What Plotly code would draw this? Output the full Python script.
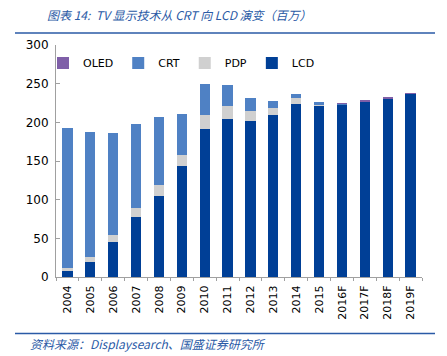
import plotly.graph_objects as go

years = ["2004", "2005", "2006", "2007", "2008", "2009", "2010", "2011",
         "2012", "2013", "2014", "2015", "2016F", "2017F", "2018F", "2019F"]
lcd = [9, 20, 45, 78, 105, 144, 192, 204, 202, 209, 224, 222, 223, 227, 231, 237]
pdp = [2, 6, 9, 11, 14, 14, 17, 17, 13, 10, 7, 1, 0.5, 0, 0, 0]
crt = [182, 161, 132, 109, 88, 53, 40, 27, 17, 9, 5, 3, 1, 0.5, 0, 0]
oled = [0, 0, 0, 0, 0, 0, 0, 0, 0, 0, 0, 0, 0.5, 1.5, 2, 0.5]

series = [
    ("LCD", lcd, "#003f96"),
    ("PDP", pdp, "#d0d0d0"),
    ("CRT", crt, "#4f81c4"),
    ("OLED", oled, "#7f5fa8"),
]

fig = go.Figure()
for name, vals, col in series:
    fig.add_trace(go.Bar(x=years, y=vals, name=name, marker=dict(color=col, line=dict(width=0))))

W, H = 447, 356
L, R, T, B = 56, 25, 45, 78.5
pw = W - L - R
ph = H - T - B
def py_to_paper_y(py):
    return (H - B - py) / ph

fig.update_layout(
    width=W, height=H,
    barmode="stack", bargap=0.55,
    plot_bgcolor="white", paper_bgcolor="white",
    margin=dict(l=L, r=R, t=T, b=B, autoexpand=False),
    font=dict(family="DejaVu Sans", size=11, color="#000000"),
    title=dict(text="<i>图表 14:  TV 显示技术从 CRT 向 LCD 演变（百万）</i>",
               xref="container", x=47 / W, xanchor="left",
               yref="container", y=1 - 16 / H, yanchor="middle",
               font=dict(family="Noto Sans CJK SC", size=12, color="#2a5aa6")),
    showlegend=True,
    legend=dict(orientation="h", traceorder="reversed",
                xref="container", x=43 / W, yref="container", y=1 - 63 / H,
                xanchor="left", yanchor="middle", bgcolor="rgba(0,0,0,0)",
                font=dict(size=11), itemwidth=30),
    xaxis=dict(showline=True, linecolor="#a0a0a0", linewidth=1, ticks="outside",
               ticklen=3, tickcolor="#a0a0a0", tickangle=-90, tickson="boundaries",
               tickfont=dict(size=11), showgrid=False, automargin=False,
               ticklabelstandoff=3),
    yaxis=dict(range=[0, 300], dtick=50, showline=True, linecolor="#a0a0a0", linewidth=1,
               ticks="inside", ticklen=4, tickcolor="#a0a0a0", showgrid=False,
               tickfont=dict(size=12), zeroline=False, automargin=False,
               ticklabelstandoff=4),
)

fig.add_annotation(xref="paper", yref="paper", x=0, xshift=148 - L, y=py_to_paper_y(344),
                   xanchor="center", yanchor="middle",
                   text="<i>资料来源：Displaysearch、国盛证券研究所</i>",
                   showarrow=False, font=dict(family="Noto Sans CJK SC", size=12, color="#2a5aa6"))

for yy in (33, 334):
    fig.add_shape(type="line", xref="paper", yref="paper",
                  x0=(15 - L) / pw, x1=(435 - L) / pw,
                  y0=py_to_paper_y(yy), y1=py_to_paper_y(yy),
                  line=dict(color="#2a5aa6", width=1.5))

fig.write_html("out.html", config={"displayModeBar": False},
               post_script="document.body.style.margin='0px';")
